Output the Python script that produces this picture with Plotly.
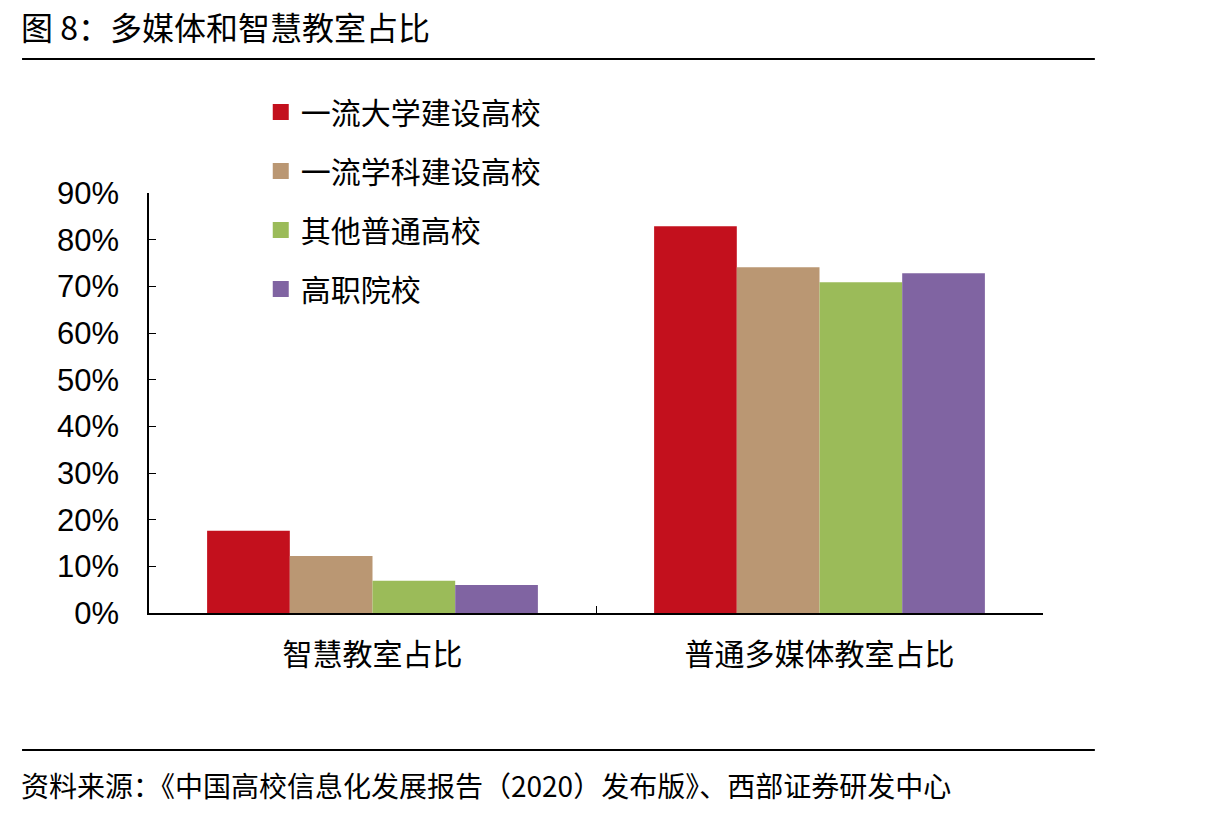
import plotly.graph_objects as go

categories = ["智慧教室占比", "普通多媒体教室占比"]
series_names = ["一流大学建设高校", "一流学科建设高校", "其他普通高校", "高职院校"]
v_top_univ = [0.176, 0.829]
v_top_disc = [0.122, 0.741]
v_other = [0.069, 0.709]
v_vocational = [0.060, 0.728]
colors = ["#C3101D", "#BA9773", "#9BBB59", "#8064A2"]

series_values = [v_top_univ, v_top_disc, v_other, v_vocational]

FONT = "Liberation Sans, Arial, Noto Sans CJK SC"
CJK = "Noto Sans CJK SC"

fig = go.Figure()
for i, (name, vals, col) in enumerate(zip(series_names, series_values, colors)):
    fig.add_trace(go.Bar(x=categories, y=vals, name=name, marker_color=col,
                         marker_line_width=0, showlegend=False))
    fig.add_trace(go.Scatter(x=[None], y=[None], mode="markers", name=name,
                             legendgroup=f"g{i}",
                             marker=dict(symbol="square", size=22 if i == 0 else 19, color=col),
                             showlegend=True))

fig.update_layout(
    width=1215, height=817,
    paper_bgcolor="white", plot_bgcolor="white",
    margin=dict(l=149, r=172, t=193, b=204),
    barmode="group", bargap=0.26, bargroupgap=0,
    font=dict(family=FONT, color="black"),
    legend=dict(x=0.125, y=1.255, xanchor="left", yanchor="top",
                font=dict(family=CJK, size=30, color="black"),
                tracegroupgap=17, itemsizing="trace", bgcolor="rgba(0,0,0,0)"),
    xaxis=dict(showline=True, linecolor="black", linewidth=1.5,
               ticks="inside", tickson="boundaries", ticklen=7, tickcolor="black",
               tickfont=dict(family=CJK, size=30, color="black"),
               ticklabelstandoff=14,
               showgrid=False),
    yaxis=dict(range=[0, 0.9], dtick=0.1, tickformat=".0%",
               showline=True, linecolor="black", linewidth=1.5,
               ticks="inside", ticklen=7, tickcolor="black",
               tickfont=dict(family="Liberation Sans, Arial", size=31, color="black"),
               ticklabelstandoff=22,
               showgrid=False, zeroline=False),
)

fig.add_annotation(text="图 8：多媒体和智慧教室占比", xref="paper", yref="paper",
                   x=-0.145, y=1.397, xanchor="left", yanchor="middle", showarrow=False,
                   font=dict(family=CJK, size=32, color="black"))
fig.add_shape(type="line", xref="paper", yref="paper", x0=-0.142, x1=1.058,
              y0=1.319, y1=1.319, line=dict(color="black", width=2))
fig.add_shape(type="line", xref="paper", yref="paper", x0=-0.142, x1=1.058,
              y0=-0.326, y1=-0.326, line=dict(color="black", width=2))
fig.add_annotation(text="资料来源：《中国高校信息化发展报告（2020）发布版》、西部证券研发中心",
                   xref="paper", yref="paper", x=-0.145, y=-0.41,
                   xanchor="left", yanchor="middle", showarrow=False,
                   font=dict(family=CJK, size=28, color="black"))

fig.write_html("out.html")
